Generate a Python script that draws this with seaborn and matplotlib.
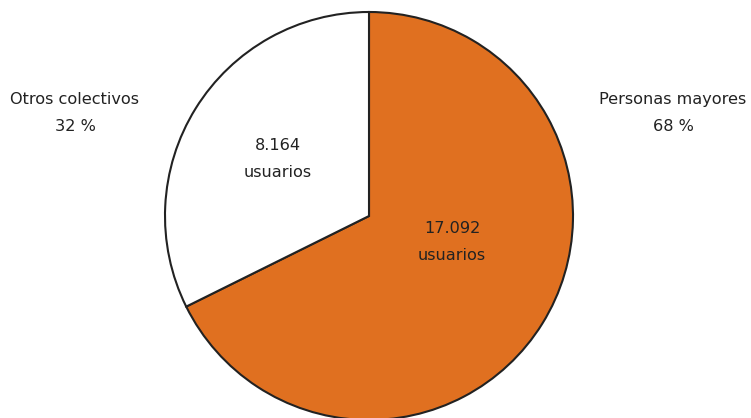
import matplotlib
matplotlib.use("Agg")
import matplotlib.pyplot as plt
import seaborn as sns

sns.set_theme(style="white")
plt.rcParams['font.family'] = ['DejaVu Sans']

categories = ["Personas mayores", "Otros colectivos"]
users = [17092, 8164]
user_labels = ["17.092", "8.164"]
pct_labels = ["68 %", "32 %"]
colors = ["#E07020", "#FFFFFF"]

W, H = 751, 418
fig = plt.figure(figsize=(W / 100, H / 100), dpi=100)
ax = fig.add_axes([0, 0, 1, 1])
ax.set_xlim(0, W)
ax.set_ylim(0, H)
ax.set_aspect("equal")
ax.axis("off")

cx, cy, r = 369, H - 216, 204
wedges, _ = ax.pie(users, colors=colors, startangle=90, counterclock=False,
                   center=(cx, cy), radius=r,
                   wedgeprops=dict(edgecolor="#222222", linewidth=1.5))
ax.set_xlim(0, W)
ax.set_ylim(0, H)
ax.axis("off")

tc = "#222222"
fs = 11.6
ls = 1.95
# outer labels
ax.text(673, H - 113, f"{categories[0]}\n{pct_labels[0]}", ha="center", va="center",
        fontsize=fs, color=tc, linespacing=ls)
ax.text(75, H - 113, f"{categories[1]}\n{pct_labels[1]}", ha="center", va="center",
        fontsize=fs, color=tc, linespacing=ls)
# inner labels
ax.text(452, H - 242, f"{user_labels[0]}\nusuarios", ha="center", va="center",
        fontsize=fs, color=tc, linespacing=ls)
ax.text(278, H - 159, f"{user_labels[1]}\nusuarios", ha="center", va="center",
        fontsize=fs, color=tc, linespacing=ls)

fig.savefig("out.png", dpi=100)
